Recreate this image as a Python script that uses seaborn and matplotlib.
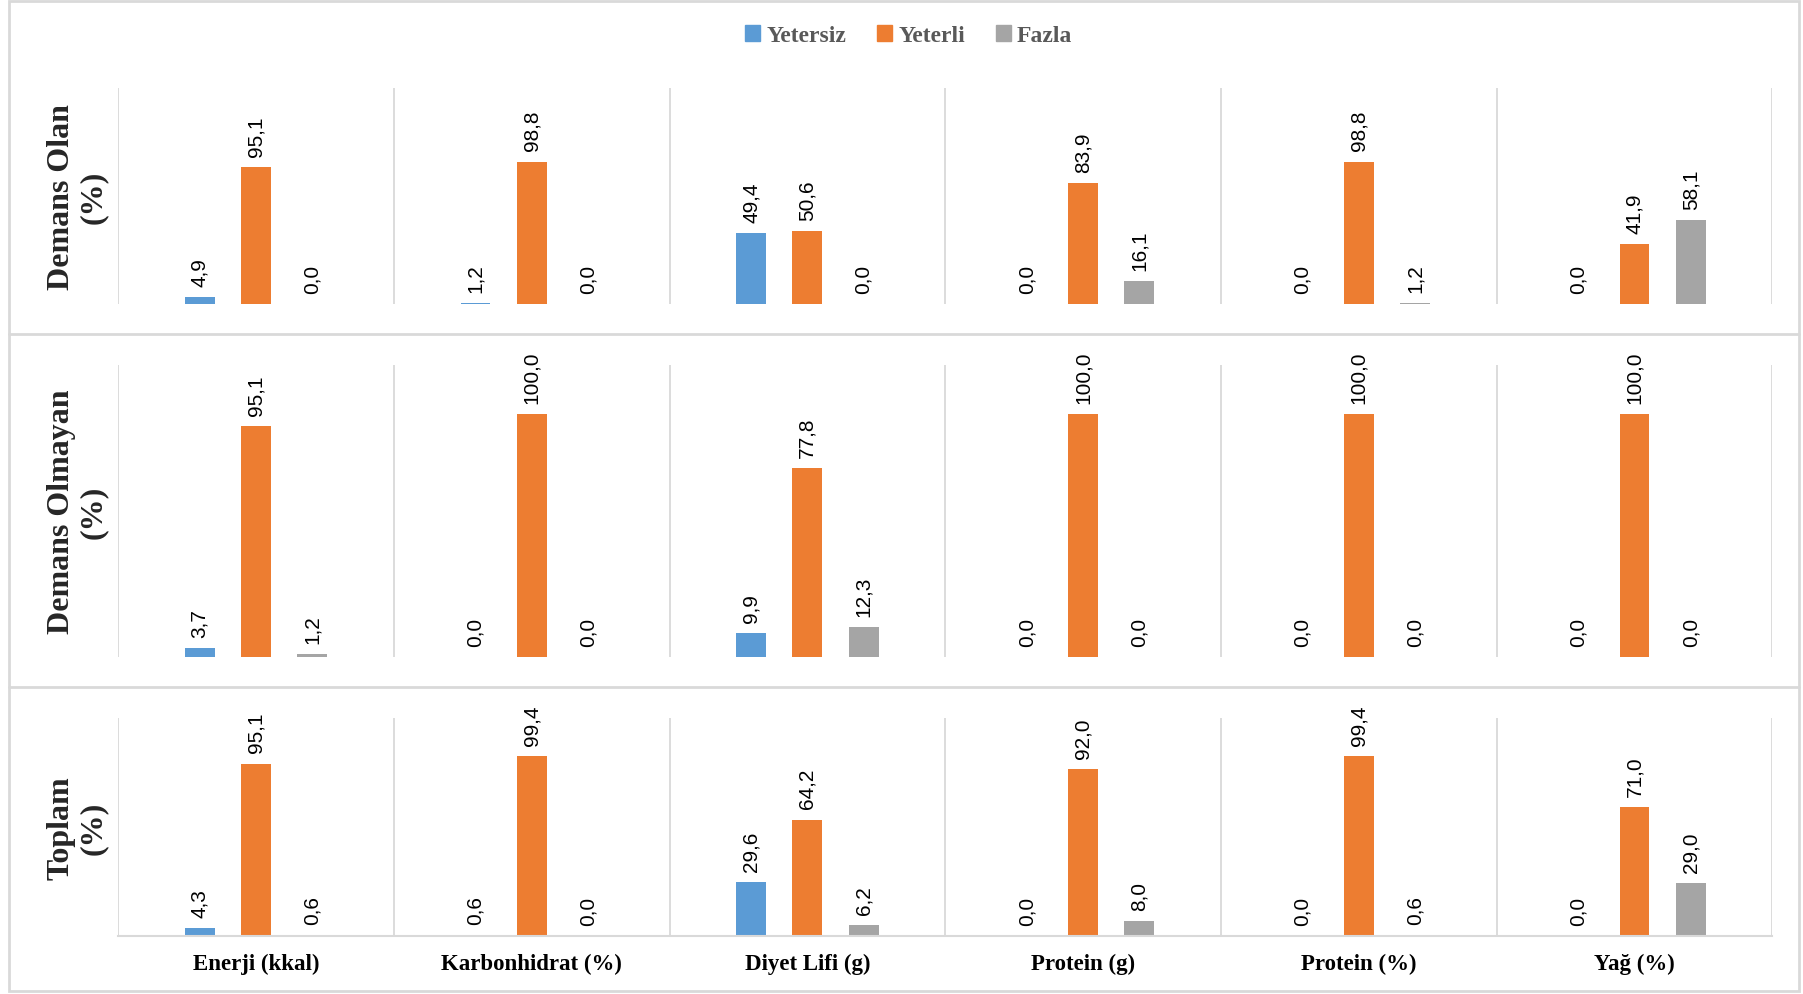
import matplotlib
matplotlib.use('Agg')
import matplotlib.pyplot as plt
import seaborn as sns
import pandas as pd
from matplotlib.patches import Rectangle
from matplotlib.lines import Line2D

categories = ["Enerji (kkal)", "Karbonhidrat (%)", "Diyet Lifi (g)",
              "Protein (g)", "Protein (%)", "Yağ (%)"]
series = ["Yetersiz", "Yeterli", "Fazla"]
groups = ["Demans Olan\n(%)", "Demans Olmayan\n(%)", "Toplam\n(%)"]

olan_yetersiz = [4.9, 1.2, 49.4, 0.0, 0.0, 0.0]
olan_yeterli = [95.1, 98.8, 50.6, 83.9, 98.8, 41.9]
olan_fazla = [0.0, 0.0, 0.0, 16.1, 1.2, 58.1]

olmayan_yetersiz = [3.7, 0.0, 9.9, 0.0, 0.0, 0.0]
olmayan_yeterli = [95.1, 100.0, 77.8, 100.0, 100.0, 100.0]
olmayan_fazla = [1.2, 0.0, 12.3, 0.0, 0.0, 0.0]

toplam_yetersiz = [4.3, 0.6, 29.6, 0.0, 0.0, 0.0]
toplam_yeterli = [95.1, 99.4, 64.2, 92.0, 99.4, 71.0]
toplam_fazla = [0.6, 0.0, 6.2, 8.0, 0.6, 29.0]

row_values = [
    (olan_yetersiz, olan_yeterli, olan_fazla),
    (olmayan_yetersiz, olmayan_yeterli, olmayan_fazla),
    (toplam_yetersiz, toplam_yeterli, toplam_fazla),
]
row_ymax = [150, 120, 120]

colors = ["#5B9BD5", "#ED7D31", "#A5A5A5"]
grid_c = "#D9D9D9"

sns.set_style("white")
plt.rcParams['font.family'] = ['Liberation Sans', 'DejaVu Sans']

fig = plt.figure(figsize=(18.03, 9.95), dpi=100)

left, right = 0.0655, 0.983
rows_yb = [(0.693, 0.911), (0.339, 0.632), (0.0583, 0.277)]

for i, (vals, (yb, yt)) in enumerate(zip(row_values, rows_yb)):
    ax = fig.add_axes([left, yb, right - left, yt - yb])
    recs = []
    for s, v in zip(series, vals):
        for c, val in zip(categories, v):
            recs.append({"Kategori": c, "Seri": s, "Deger": val})
    df = pd.DataFrame(recs)
    sns.barplot(data=df, x="Kategori", y="Deger", hue="Seri",
                order=categories, hue_order=series, palette=colors,
                saturation=1, width=0.612, gap=0.47, linewidth=0,
                legend=False, errorbar=None, ax=ax)
    ax.set_xlim(-0.5, len(categories) - 0.5)
    ax.set_ylim(0, row_ymax[i])
    ax.set_xlabel("")
    ax.set_ylabel("")
    ax.set_yticks([])
    for sp in ax.spines.values():
        sp.set_visible(False)
    for k in range(len(categories) + 1):
        ax.axvline(k - 0.5, color=grid_c, lw=1.3, zorder=0)
    for cont in ax.containers:
        for bar in cont:
            h = bar.get_height()
            ax.annotate(f"{h:.1f}".replace('.', ','),
                        (bar.get_x() + bar.get_width() / 2, h),
                        xytext=(0, 8), textcoords='offset points',
                        rotation=90, ha='center', va='bottom',
                        fontsize=15, color='#000000',
                        family=['Liberation Sans', 'DejaVu Sans'])
    if i == 2:
        ax.spines['bottom'].set_visible(True)
        ax.spines['bottom'].set_color(grid_c)
        ax.spines['bottom'].set_linewidth(1.5)
        ax.tick_params(axis='x', length=0, pad=12)
        ax.set_xticks(range(len(categories)))
        ax.set_xticklabels(categories, fontsize=16.5, fontweight='bold',
                           family=['Liberation Serif', 'DejaVu Serif'],
                           color='#000000')
    else:
        ax.set_xticks([])
    fig.text(0.043, (yb + yt) / 2, groups[i], rotation=90, ha='center',
             va='center', fontsize=23, fontweight='bold',
             family=['Liberation Serif', 'DejaVu Serif'],
             multialignment='center', linespacing=1.15)

for y in [0.663, 0.3085]:
    fig.add_artist(Line2D([0.005, 0.998], [y, y], transform=fig.transFigure,
                          color=grid_c, lw=2))
fig.add_artist(Rectangle((0.005, 0.003), 0.993, 0.995, transform=fig.transFigure,
                         fill=False, edgecolor=grid_c, lw=2))

handles = [Rectangle((0, 0), 1, 1, color=c) for c in colors]
leg = fig.legend(handles, series, loc='center', bbox_to_anchor=(0.504, 0.963),
                 ncol=3, frameon=False, handlelength=0.65, handleheight=0.65,
                 handletextpad=0.25, columnspacing=1.3,
                 prop={'family': 'Liberation Serif', 'weight': 'bold', 'size': 17})
for t in leg.get_texts():
    t.set_color('#595959')

fig.savefig("out.png", dpi=100)
